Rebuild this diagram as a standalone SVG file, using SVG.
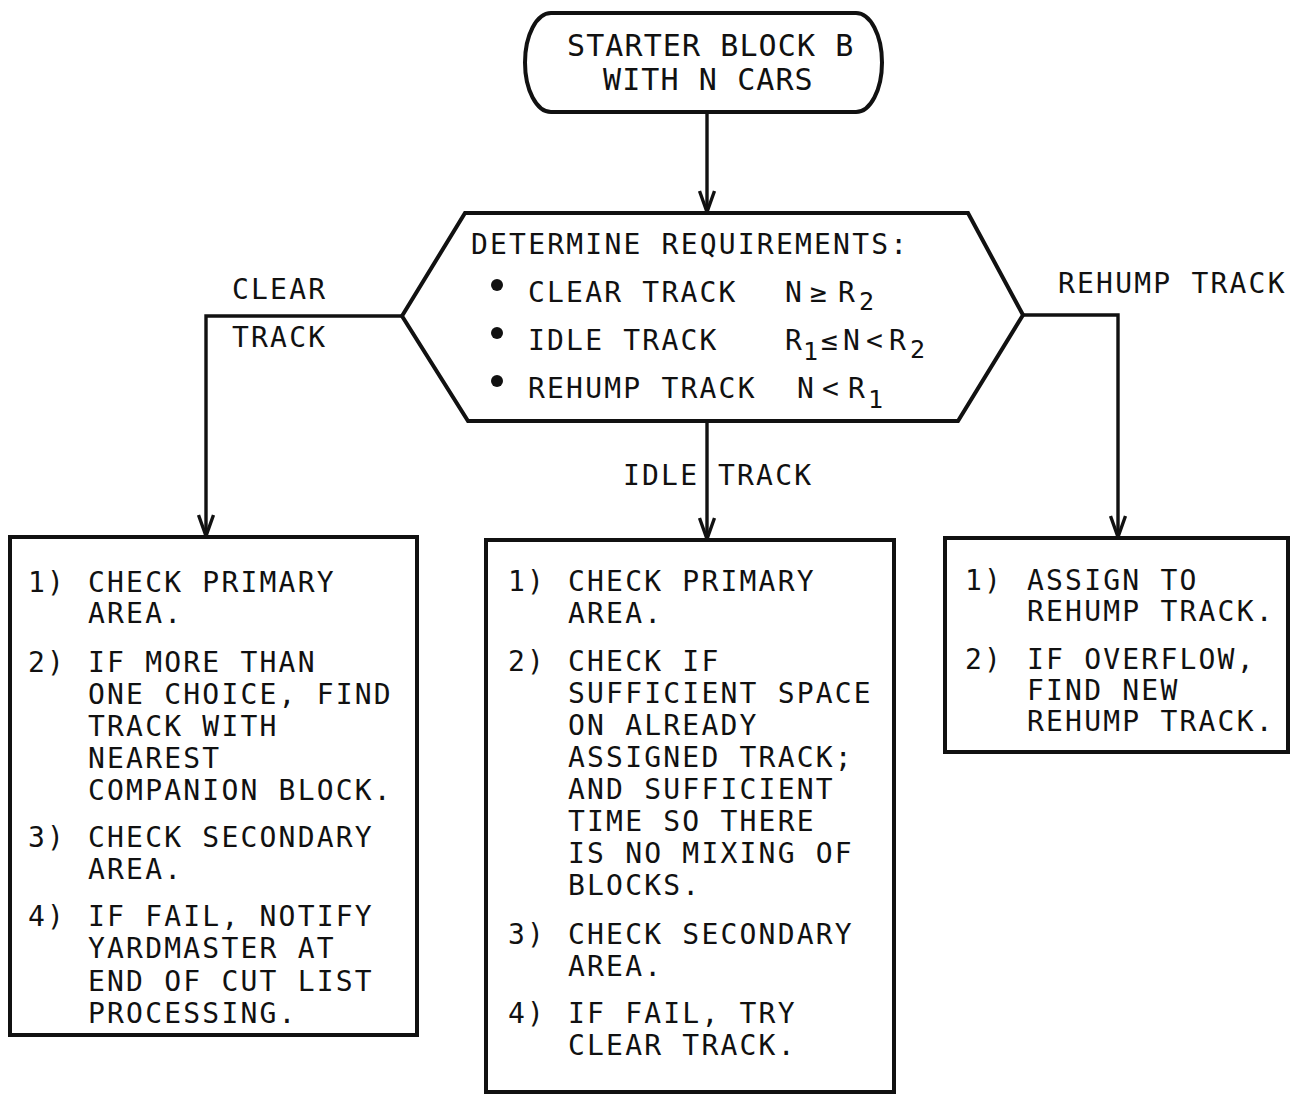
<svg xmlns="http://www.w3.org/2000/svg" width="1305" height="1095" viewBox="0 0 1305 1095">
<defs>
<style>
.t{font-family:"DejaVu Sans Mono","Liberation Mono",monospace;font-size:28px;letter-spacing:2.2px;fill:#111;}
.big{font-size:30px;letter-spacing:1.1px;}
.sub{font-size:25px;letter-spacing:0;}
.box{fill:#fff;stroke:#111;stroke-width:4;stroke-linejoin:miter;}
.con{fill:none;stroke:#111;stroke-width:3.4;}
</style>
<marker id="arr" markerUnits="userSpaceOnUse" viewBox="0 0 24 18" refX="22" refY="9" markerWidth="24" markerHeight="18" orient="auto">
<path d="M1,1.5 L22,9 L1,16.5" fill="none" stroke="#111" stroke-width="3.4"/>
</marker>
</defs>
<rect width="1305" height="1095" fill="#fff"/>

<g id="connectors">
<path class="con" d="M707,112 V212" marker-end="url(#arr)"/>
<path class="con" d="M402,316 H206 V536" marker-end="url(#arr)"/>
<path class="con" d="M707,421 V539" marker-end="url(#arr)"/>
<path class="con" d="M1023,315 H1118 V537" marker-end="url(#arr)"/>
<text class="t" x="232" y="299">CLEAR</text>
<text class="t" x="232" y="347">TRACK</text>
<text class="t" x="1058" y="293">REHUMP TRACK</text>
<text class="t" x="623" y="485">IDLE</text>
<text class="t" x="718" y="485">TRACK</text>
</g>

<g id="start">
<rect class="box" x="525" y="13" width="357" height="99" rx="26" ry="49.5"/>
<text class="t big" x="567" y="56">STARTER BLOCK B</text>
<text class="t big" x="603" y="90">WITH N CARS</text>
</g>

<g id="determine">
<polygon class="box" points="402,316 465,213 968,213 1023,315 958,421 468,421"/>
<text class="t" x="471" y="254">DETERMINE REQUIREMENTS:</text>
<circle cx="497" cy="285" r="6" fill="#111"/>
<circle cx="497" cy="333" r="6" fill="#111"/>
<circle cx="497" cy="381" r="6" fill="#111"/>
<text class="t" x="528" y="302">CLEAR TRACK</text>
<text class="t" x="528" y="350">IDLE TRACK</text>
<text class="t" x="528" y="398">REHUMP TRACK</text>
<text class="t" y="302"><tspan x="785">N</tspan><tspan x="810">≥</tspan><tspan x="838">R</tspan></text>
<text class="t sub" x="859" y="310">2</text>
<text class="t" y="350"><tspan x="785">R</tspan><tspan x="821">≤</tspan><tspan x="843">N</tspan><tspan x="866">&lt;</tspan><tspan x="889">R</tspan></text>
<text class="t sub" x="803" y="360">1</text>
<text class="t sub" x="910" y="358">2</text>
<text class="t" y="398"><tspan x="797">N</tspan><tspan x="822">&lt;</tspan><tspan x="848">R</tspan></text>
<text class="t sub" x="868" y="408">1</text>
</g>

<g id="clear-track">
<rect class="box" x="10" y="537" width="407" height="498"/>
<text class="t" x="28" y="592">1)</text>
<text class="t" x="88" y="592">CHECK PRIMARY</text>
<text class="t" x="88" y="623">AREA.</text>
<text class="t" x="28" y="672">2)</text>
<text class="t" x="88" y="672">IF MORE THAN</text>
<text class="t" x="88" y="704">ONE CHOICE, FIND</text>
<text class="t" x="88" y="736">TRACK WITH</text>
<text class="t" x="88" y="768">NEAREST</text>
<text class="t" x="88" y="800">COMPANION BLOCK.</text>
<text class="t" x="28" y="847">3)</text>
<text class="t" x="88" y="847">CHECK SECONDARY</text>
<text class="t" x="88" y="879">AREA.</text>
<text class="t" x="28" y="926">4)</text>
<text class="t" x="88" y="926">IF FAIL, NOTIFY</text>
<text class="t" x="88" y="958">YARDMASTER AT</text>
<text class="t" x="88" y="991">END OF CUT LIST</text>
<text class="t" x="88" y="1023">PROCESSING.</text>
</g>

<g id="idle-track">
<rect class="box" x="486" y="540" width="408" height="552"/>
<text class="t" x="508" y="591">1)</text>
<text class="t" x="568" y="591">CHECK PRIMARY</text>
<text class="t" x="568" y="623">AREA.</text>
<text class="t" x="508" y="671">2)</text>
<text class="t" x="568" y="671">CHECK IF</text>
<text class="t" x="568" y="703">SUFFICIENT SPACE</text>
<text class="t" x="568" y="735">ON ALREADY</text>
<text class="t" x="568" y="767">ASSIGNED TRACK;</text>
<text class="t" x="568" y="799">AND SUFFICIENT</text>
<text class="t" x="568" y="831">TIME SO THERE</text>
<text class="t" x="568" y="863">IS NO MIXING OF</text>
<text class="t" x="568" y="895">BLOCKS.</text>
<text class="t" x="508" y="944">3)</text>
<text class="t" x="568" y="944">CHECK SECONDARY</text>
<text class="t" x="568" y="976">AREA.</text>
<text class="t" x="508" y="1023">4)</text>
<text class="t" x="568" y="1023">IF FAIL, TRY</text>
<text class="t" x="568" y="1055">CLEAR TRACK.</text>
</g>

<g id="rehump-track">
<rect class="box" x="945" y="538" width="343" height="214"/>
<text class="t" x="965" y="590">1)</text>
<text class="t" x="1027" y="590">ASSIGN TO</text>
<text class="t" x="1027" y="621">REHUMP TRACK.</text>
<text class="t" x="965" y="669">2)</text>
<text class="t" x="1027" y="669">IF OVERFLOW,</text>
<text class="t" x="1027" y="700">FIND NEW</text>
<text class="t" x="1027" y="731">REHUMP TRACK.</text>
</g>
</svg>
